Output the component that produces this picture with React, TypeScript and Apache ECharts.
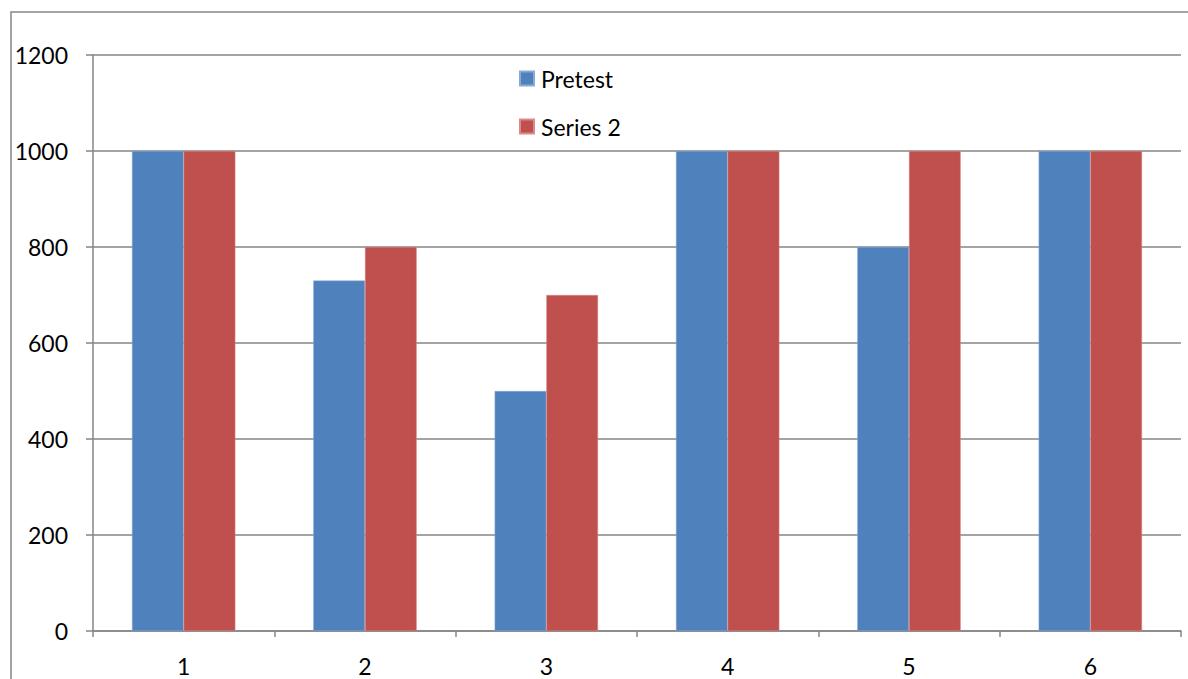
import React, { useEffect, useRef } from "react";
import * as echarts from "echarts";

const categories = ["1", "2", "3", "4", "5", "6"];
const pretest = [1000, 730, 500, 1000, 800, 1000];
const series2 = [1000, 800, 700, 1000, 1000, 1000];
const seriesNames = ["Pretest", "Series 2"];

export default function App() {
  const ref = useRef<HTMLDivElement>(null);
  useEffect(() => {
    document.body.style.margin = "0";
    const chart = echarts.init(ref.current!, null, { renderer: "svg" });
    const font = "Lato, 'Noto Sans', sans-serif";
    chart.setOption({
      animation: false,
      backgroundColor: "#ffffff",
      graphic: [
        {
          type: "rect",
          shape: { x: 11, y: 12, width: 1300, height: 800 },
          style: { fill: "none", stroke: "#868686", lineWidth: 1.5 },
          silent: true,
          z: -1,
        },
      ],
      legend: {
        orient: "vertical",
        left: 519,
        top: 67,
        padding: 0,
        itemWidth: 14,
        itemHeight: 14,
        itemGap: 25,
        icon: "rect",
        textStyle: { fontFamily: font, fontSize: 23, lineHeight: 22, color: "#000", padding: [0, 0, 0, 2] },
        data: seriesNames,
      },
      grid: { left: 93, right: 7, top: 55, bottom: 48 },
      xAxis: {
        type: "category",
        data: categories,
        axisLine: { lineStyle: { color: "#868686", width: 1.5 } },
        axisTick: { show: true, length: 6, lineStyle: { color: "#868686", width: 1.5 } },
        axisLabel: { fontFamily: font, fontSize: 23, color: "#000", margin: 23 },
      },
      yAxis: {
        type: "value",
        min: 0,
        max: 1200,
        interval: 200,
        axisLine: { show: true, lineStyle: { color: "#868686", width: 1.5 } },
        axisTick: { show: true, length: 7, lineStyle: { color: "#868686", width: 1.5 } },
        splitLine: { lineStyle: { color: "#868686", width: 1.5 } },
        axisLabel: { fontFamily: font, fontSize: 23, color: "#000", margin: 25, formatter: (v: number) => String(v) },
      },
      series: [
        {
          name: seriesNames[0],
          type: "bar",
          data: pretest,
          barGap: "0%",
          barCategoryGap: "43%",
          itemStyle: { color: "#4F81BD", borderColor: "#8AA9D4", borderWidth: 0.5 },
        },
        {
          name: seriesNames[1],
          type: "bar",
          data: series2,
          itemStyle: { color: "#C0504D", borderColor: "#D88C8A", borderWidth: 0.5 },
        },
      ],
    });
    return () => chart.dispose();
  }, []);
  return <div ref={ref} style={{ width: 1188, height: 679 }} />;
}
